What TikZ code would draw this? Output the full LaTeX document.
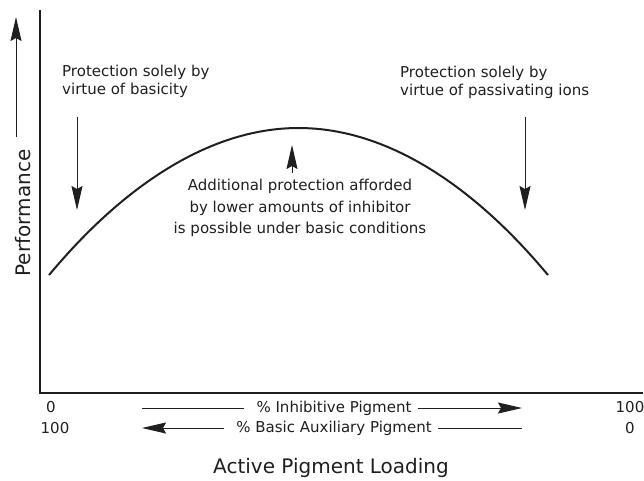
\documentclass[tikz,border=0pt]{standalone}
\usepackage{fontspec}
\setmainfont{DejaVu Sans}
\usetikzlibrary{arrows.meta}

\colorlet{line ink}{black!88}
\tikzset{axis/.style={draw=line ink, line width=2.6pt},
    curve/.style={draw=line ink, line width=2pt},
    rule/.style={draw=line ink, line width=1pt},
    pointer/.style={rule, -{Stealth[length=24pt, width=11pt, inset=3pt]}},
    note/.style={font=\fontsize{15}{18}\selectfont, inner sep=0pt, text=line ink},
    axislabel/.style={font=\fontsize{20}{24}\selectfont, inner sep=0pt, text=line ink}}

\begin{document}
\begin{tikzpicture}[x=1pt, y=-1pt]
        \useasboundingbox (0,0) rectangle (644,480);

        % Axes
        \coordinate (ytop) at (40,10);
        \coordinate (origin) at (40,393);
        \coordinate (xend) at (643,393);
        \draw[axis] (ytop) -- (origin) -- (xend);

        % Performance curve
        \draw[curve] (49,275) parabola bend (298.5,128) (548,275);

        % Notes above the curve
        \node[note, anchor=west, align=left] (basicity) at (62,81)
            {Protection solely by\\virtue of basicity};
        \node[note, anchor=west, align=left] (passive) at (400,82)
            {Protection solely by\\virtue of passivating ions};
        \node[note, align=center, font=\fontsize{15}{21.5}\selectfont] (extra) at (300,208)
            {Additional protection afforded\\by lower amounts of inhibitor\\is possible under basic conditions};

        \coordinate (basicity from) at (77,117);
        \coordinate (basicity to) at (77,210);
        \coordinate (passive from) at (525,117);
        \coordinate (passive to) at (525,210);
        \coordinate (extra from) at (292,173);
        \coordinate (extra to) at (292,145);
        \draw[pointer] (basicity from) -- (basicity to);
        \draw[pointer] (passive from) -- (passive to);
        \draw[pointer] (extra from) -- (extra to);

        % Scales under the x axis
        \node[note] (zero top) at (51,407) {0};
        \node[note] (hundred top) at (630,407) {100};
        \node[note] (hundred bottom) at (55,428) {100};
        \node[note] (zero bottom) at (630,428) {0};

        \node[note] (inhibitive) at (334,408) {\% Inhibitive Pigment};
        \node[note] (auxiliary) at (334,428) {\% Basic Auxiliary Pigment};
        \coordinate (inhibitive start) at (142,408);
        \coordinate (inhibitive end) at (522,408);
        \coordinate (auxiliary end) at (142,428);
        \coordinate (auxiliary start) at (522,428);
        \draw[rule] (inhibitive start) -- ([xshift=-12pt]inhibitive.west);
        \draw[pointer] ([xshift=6pt]inhibitive.east) -- (inhibitive end);
        \draw[rule] (auxiliary start) -- ([xshift=6pt]auxiliary.east);
        \draw[pointer] ([xshift=-12pt]auxiliary.west) -- (auxiliary end);

        % Axis titles
        \node[axislabel, rotate=90] (performance) at (23,213) {Performance};
        \coordinate (performance from) at (16,137);
        \coordinate (performance to) at (16,17);
        \draw[pointer] (performance from) -- (performance to);
        \node[axislabel] (loading) at (331,468) {Active Pigment Loading};
    \end{tikzpicture}
\end{document}
